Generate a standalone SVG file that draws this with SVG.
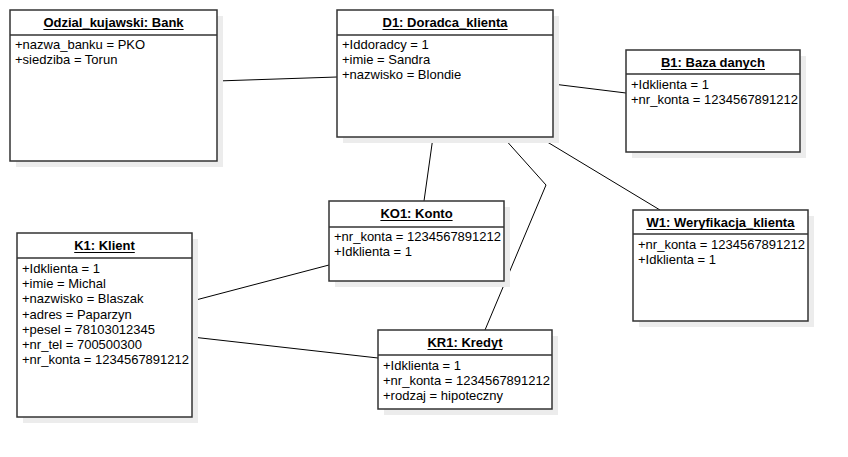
<svg xmlns="http://www.w3.org/2000/svg" width="848" height="457" viewBox="0 0 848 457">
<style>
.shadow{fill:#ececec;stroke:none}
.box{fill:#ffffff;stroke:#333333;stroke-width:1.5}
.sep{stroke:#333333;stroke-width:1.5}
.ul{stroke:#000;stroke-width:1.2}
.title{font-family:"Liberation Sans",Arial,sans-serif;font-size:13px;font-weight:bold;text-anchor:middle;fill:#000}
.attr{font-family:"Liberation Sans",Arial,sans-serif;font-size:13px;fill:#000}
.conn{fill:none;stroke:#000;stroke-width:1}
</style>
<rect width="848" height="457" fill="#ffffff"/>
<g id="connectors">
<line class="conn" x1="217" y1="81" x2="337" y2="77"/>
<line class="conn" x1="553" y1="84" x2="626" y2="93"/>
<line class="conn" x1="539" y1="137" x2="660" y2="210"/>
<line class="conn" x1="433" y1="137" x2="424" y2="201"/>
<polyline class="conn" points="503,137 546,185 485,330"/>
<line class="conn" x1="192" y1="301" x2="329" y2="265"/>
<line class="conn" x1="192" y1="337" x2="378" y2="358"/>
</g>
<g id="bank">
<rect class="shadow" x="16" y="16" width="207" height="151"/>
<rect class="box" x="10" y="10" width="207" height="151"/>
<line class="sep" x1="10" y1="35" x2="217" y2="35"/>
<text class="title" x="113.5" y="27">Odzial_kujawski: Bank</text>
<line class="ul" x1="43.4" y1="29.5" x2="183.6" y2="29.5"/>
<text class="attr" x="15" y="49">+nazwa_banku = PKO</text>
<text class="attr" x="15" y="64.2">+siedziba = Torun</text>
</g>
<g id="d1">
<rect class="shadow" x="343" y="16" width="216" height="127"/>
<rect class="box" x="337" y="10" width="216" height="127"/>
<line class="sep" x1="337" y1="35" x2="553" y2="35"/>
<text class="title" x="445" y="27">D1: Doradca_klienta</text>
<line class="ul" x1="382.5" y1="29.5" x2="507.5" y2="29.5"/>
<text class="attr" x="342" y="49">+Iddoradcy = 1</text>
<text class="attr" x="342" y="64.2">+imie = Sandra</text>
<text class="attr" x="342" y="79.4">+nazwisko = Blondie</text>
</g>
<g id="b1">
<rect class="shadow" x="632" y="56" width="174" height="102"/>
<rect class="box" x="626" y="50" width="174" height="102"/>
<line class="sep" x1="626" y1="74" x2="800" y2="74"/>
<text class="title" x="713" y="67">B1: Baza danych</text>
<line class="ul" x1="661" y1="69.5" x2="765" y2="69.5"/>
<text class="attr" x="631" y="88.5">+Idklienta = 1</text>
<text class="attr" x="631" y="103.7">+nr_konta = 1234567891212</text>
</g>
<g id="ko1">
<rect class="shadow" x="335" y="207" width="175" height="80"/>
<rect class="box" x="329" y="201" width="175" height="80"/>
<line class="sep" x1="329" y1="227" x2="504" y2="227"/>
<text class="title" x="416.5" y="218">KO1: Konto</text>
<line class="ul" x1="380.4" y1="220.5" x2="452.6" y2="220.5"/>
<text class="attr" x="334" y="241">+nr_konta = 1234567891212</text>
<text class="attr" x="334" y="256.2">+Idklienta = 1</text>
</g>
<g id="w1">
<rect class="shadow" x="639" y="216" width="175" height="111"/>
<rect class="box" x="633" y="210" width="175" height="111"/>
<line class="sep" x1="633" y1="234" x2="808" y2="234"/>
<text class="title" x="720.5" y="227">W1: Weryfikacja_klienta</text>
<line class="ul" x1="646.4" y1="229.5" x2="794.6" y2="229.5"/>
<text class="attr" x="638" y="248.5">+nr_konta = 1234567891212</text>
<text class="attr" x="638" y="263.7">+Idklienta = 1</text>
</g>
<g id="k1">
<rect class="shadow" x="23" y="239" width="175" height="184"/>
<rect class="box" x="17" y="233" width="175" height="184"/>
<line class="sep" x1="17" y1="258" x2="192" y2="258"/>
<text class="title" x="104.5" y="250">K1: Klient</text>
<line class="ul" x1="74.2" y1="252.5" x2="134.8" y2="252.5"/>
<text class="attr" x="22" y="273">+Idklienta = 1</text>
<text class="attr" x="22" y="288.2">+imie = Michal</text>
<text class="attr" x="22" y="303.4">+nazwisko = Blaszak</text>
<text class="attr" x="22" y="318.6">+adres = Paparzyn</text>
<text class="attr" x="22" y="333.8">+pesel = 78103012345</text>
<text class="attr" x="22" y="349">+nr_tel = 700500300</text>
<text class="attr" x="22" y="364.2">+nr_konta = 1234567891212</text>
</g>
<g id="kr1">
<rect class="shadow" x="384" y="336" width="174" height="79"/>
<rect class="box" x="378" y="330" width="174" height="79"/>
<line class="sep" x1="378" y1="355" x2="552" y2="355"/>
<text class="title" x="465" y="347">KR1: Kredyt</text>
<line class="ul" x1="427.5" y1="349.5" x2="502.5" y2="349.5"/>
<text class="attr" x="383" y="369.5">+Idklienta = 1</text>
<text class="attr" x="383" y="384.7">+nr_konta = 1234567891212</text>
<text class="attr" x="383" y="399.9">+rodzaj = hipoteczny</text>
</g>
</svg>
